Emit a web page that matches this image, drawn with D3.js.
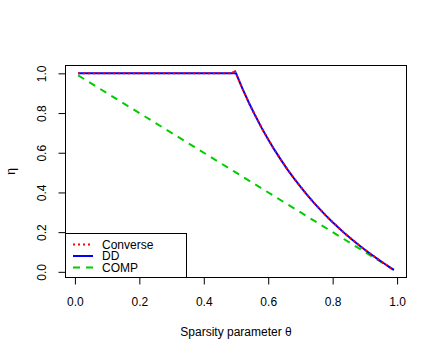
<!DOCTYPE html>
<html>
<head>
<meta charset="utf-8">
<script src="https://cdn.jsdelivr.net/npm/d3@7"></script>
<style>
  body { margin: 0; background: #fff; }
  svg text { font-family: "Liberation Sans", Arial, Helvetica, sans-serif; }
</style>
</head>
<body>
<div id="canvas"></div>
<script>
// theta grid for the DD / converse curves
const thetaDD = [0.01, 0.1, 0.2, 0.3, 0.4, 0.49, 0.5, 0.52, 0.54, 0.56, 0.58, 0.6, 0.62, 0.64, 0.66, 0.68,
  0.7, 0.72, 0.74, 0.76, 0.78, 0.8, 0.82, 0.84, 0.86, 0.88, 0.9, 0.92, 0.94, 0.96, 0.98, 0.99];
const etaDD = [1, 1, 1, 1, 1, 1, 1, 0.923, 0.852, 0.786, 0.724, 0.667, 0.613, 0.563, 0.515, 0.471,
  0.429, 0.389, 0.351, 0.316, 0.282, 0.25, 0.22, 0.19, 0.163, 0.136, 0.111, 0.087, 0.064, 0.042, 0.02, 0.01];
const thetaConv = [0.01, 0.1, 0.2, 0.3, 0.4, 0.49, 0.495, 0.5, 0.52, 0.54, 0.56, 0.58, 0.6, 0.62, 0.64, 0.66, 0.68,
  0.7, 0.72, 0.74, 0.76, 0.78, 0.8, 0.82, 0.84, 0.86, 0.88, 0.9, 0.92, 0.94, 0.96, 0.98, 0.99];
const etaConv = [1, 1, 1, 1, 1, 1, 1.02, 1, 0.923, 0.852, 0.786, 0.724, 0.667, 0.613, 0.563, 0.515, 0.471,
  0.429, 0.389, 0.351, 0.316, 0.282, 0.25, 0.22, 0.19, 0.163, 0.136, 0.111, 0.087, 0.064, 0.042, 0.02, 0.01];
const thetaComp = [0.01, 0.99];
const etaComp = [0.99, 0.01];
const xTicks = [0, 0.2, 0.4, 0.6, 0.8, 1.0];
const yTicks = [0, 0.2, 0.4, 0.6, 0.8, 1.0];
const legendNames = ["Converse", "DD", "COMP"];

const width = 440;
const height = 360;
const box = { left: 65.5, top: 65.5, right: 406.5, bottom: 277.5 };

const svg = d3.select("#canvas").append("svg")
  .attr("width", width)
  .attr("height", height);

const x = d3.scaleLinear().domain([-0.0292, 1.0292]).range([box.left, box.right]);
const y = d3.scaleLinear().domain([-0.0286, 1.0396]).range([box.bottom, box.top]);

const line = d3.line().x(d => x(d[0])).y(d => y(d[1]));

const styles = [
  { color: "#ff0000", dash: "2,3" },
  { color: "#0000ff", dash: null },
  { color: "#00cd00", dash: "7,6" }
];

// draw COMP, then DD, then converse on top
svg.append("path")
  .datum(d3.zip(thetaComp, etaComp))
  .attr("d", line)
  .attr("fill", "none")
  .attr("stroke", styles[2].color)
  .attr("stroke-width", 2)
  .attr("stroke-dasharray", styles[2].dash);

svg.append("path")
  .datum(d3.zip(thetaDD, etaDD))
  .attr("d", line)
  .attr("fill", "none")
  .attr("stroke", styles[1].color)
  .attr("stroke-width", 2);

svg.append("path")
  .datum(d3.zip(thetaConv, etaConv))
  .attr("d", line)
  .attr("fill", "none")
  .attr("stroke", styles[0].color)
  .attr("stroke-width", 2)
  .attr("stroke-dasharray", styles[0].dash);

// axes
const xAxis = svg.append("g")
  .attr("transform", `translate(0,${box.bottom})`)
  .call(d3.axisBottom(x).tickValues(xTicks).tickFormat(d3.format(".1f")).tickSize(7).tickPadding(13));
xAxis.select(".domain").remove();
xAxis.selectAll("text").attr("font-size", 12).attr("fill", "#000")
  .attr("font-family", "Liberation Sans, Arial, sans-serif");

const yAxis = svg.append("g")
  .attr("transform", `translate(${box.left},0)`)
  .call(d3.axisLeft(y).tickValues(yTicks).tickFormat(d3.format(".1f")).tickSize(7));
yAxis.select(".domain").remove();
yAxis.selectAll("text")
  .attr("font-size", 12).attr("fill", "#000")
  .attr("font-family", "Liberation Sans, Arial, sans-serif")
  .attr("x", null).attr("dy", null)
  .attr("text-anchor", "middle")
  .attr("transform", "translate(-19.5,0) rotate(-90)");

// plot box
svg.append("rect")
  .attr("x", box.left).attr("y", box.top)
  .attr("width", box.right - box.left).attr("height", box.bottom - box.top)
  .attr("fill", "none").attr("stroke", "#000").attr("stroke-width", 1);

// axis titles
svg.append("text")
  .attr("x", (box.left + box.right) / 2).attr("y", 336)
  .attr("text-anchor", "middle").attr("font-size", 12)
  .text("Sparsity parameter \u03b8");

svg.append("text")
  .attr("transform", `translate(15,${(box.top + box.bottom) / 2}) rotate(-90)`)
  .attr("text-anchor", "middle").attr("font-size", 12)
  .text("\u03b7");

// legend
const lg = svg.append("g");
lg.append("rect")
  .attr("x", box.left).attr("y", 233.5)
  .attr("width", 186.5 - box.left).attr("height", box.bottom - 233.5)
  .attr("fill", "#fff").attr("stroke", "#000");

legendNames.forEach((name, i) => {
  const ly = 244.5 + i * 11.5;
  lg.append("line")
    .attr("x1", 73).attr("x2", 93).attr("y1", ly).attr("y2", ly)
    .attr("stroke", styles[i].color).attr("stroke-width", 2)
    .attr("stroke-dasharray", styles[i].dash);
  lg.append("text")
    .attr("x", 102).attr("y", ly + 4.3)
    .attr("font-size", 12)
    .text(name);
});
</script>
</body>
</html>
